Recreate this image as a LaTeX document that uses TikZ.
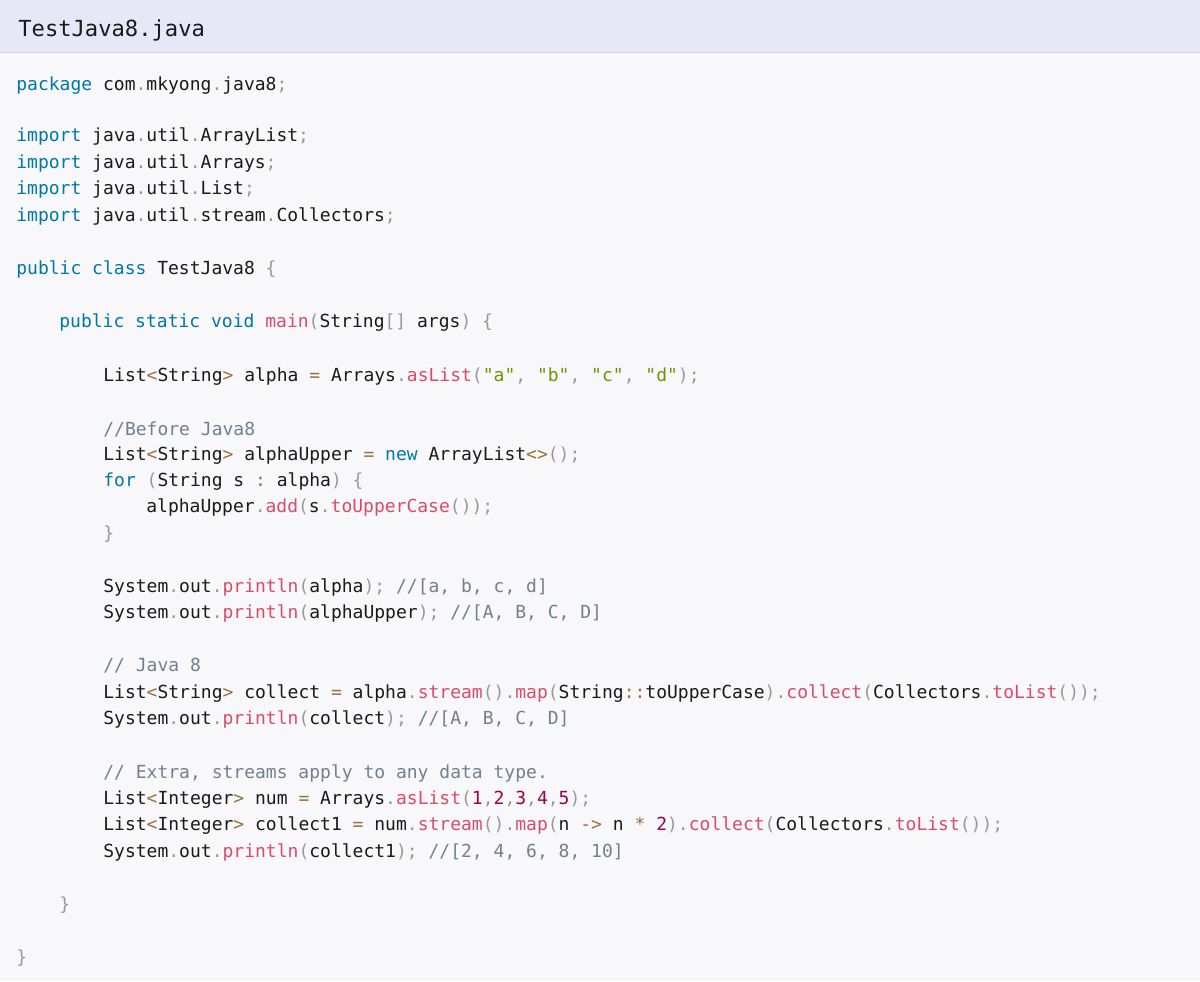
\documentclass[tikz,border=0pt]{standalone}
\usepackage{fontspec}
\setmonofont{DejaVu Sans Mono}
\definecolor{headbg}{HTML}{E7E7F8}
\definecolor{headline}{HTML}{CFCFE8}
\definecolor{codebg}{HTML}{F8F8FA}
\definecolor{kwcol}{HTML}{0077AA}
\definecolor{fncol}{HTML}{DD4A68}
\definecolor{stcol}{HTML}{669900}
\definecolor{opcol}{HTML}{9A6E3A}
\definecolor{pucol}{HTML}{999999}
\definecolor{cmcol}{HTML}{708090}
\definecolor{nmcol}{HTML}{990055}
\definecolor{txcol}{HTML}{1A1A1A}
\newcommand\kw[1]{\textcolor{kwcol}{#1}}
\newcommand\fn[1]{\textcolor{fncol}{#1}}
\newcommand\st[1]{\textcolor{stcol}{#1}}
\newcommand\op[1]{\textcolor{opcol}{#1}}
\newcommand\pu[1]{\textcolor{pucol}{#1}}
\newcommand\cm[1]{\textcolor{cmcol}{#1}}
\newcommand\nm[1]{\textcolor{nmcol}{#1}}
\newcommand\codefont{\ttfamily\fontsize{10.25}{12}\selectfont\color{txcol}}
\tikzset{codeline/.style={anchor=base west, inner sep=0pt, font=\codefont}}

\begin{document}
\begin{tikzpicture}[x=0.02cm,y=-0.02cm]
\useasboundingbox (0,0) rectangle (1200,981);
% background and file header
\fill[codebg] (0,0) rectangle (1200,981);
\fill[headbg] (0,0) rectangle (1200,52);
\draw[headline] (0,52) -- (1200,52);
\node[anchor=base west, inner sep=0pt, font=\ttfamily\fontsize{12.6}{14}\selectfont\color{txcol}] (title) at (18,36) {TestJava8.java};

% -------- code lines ---------
\begin{scope}[yshift=-0.11cm]
\node[codeline] (l1) at (16,85) {\kw{package} com\pu{.}mkyong\pu{.}java8\pu{;}};
\node[codeline] (l2) at (16,136) {\kw{import} java\pu{.}util\pu{.}ArrayList\pu{;}};
\node[codeline] (l3) at (16,163) {\kw{import} java\pu{.}util\pu{.}Arrays\pu{;}};
\node[codeline] (l4) at (16,189) {\kw{import} java\pu{.}util\pu{.}List\pu{;}};
\node[codeline] (l5) at (16,216) {\kw{import} java\pu{.}util\pu{.}stream\pu{.}Collectors\pu{;}};
\node[codeline] (l6) at (16,269) {\kw{public} \kw{class} TestJava8 \pu{\{}};
\node[codeline] (l7) at (59,322) {\kw{public} \kw{static} \kw{void} \fn{main}\pu{(}String\pu{[]} args\pu{)} \pu{\{}};
\node[codeline] (l8) at (103,376) {List\op{<}String\op{>} alpha \op{=} Arrays\pu{.}\fn{asList}\pu{(}\st{"a"}\pu{,} \st{"b"}\pu{,} \st{"c"}\pu{,} \st{"d"}\pu{);}};
\node[codeline] (l9) at (103,430) {\cm{//Before Java8}};
\node[codeline] (l10) at (103,455) {List\op{<}String\op{>} alphaUpper \op{=} \kw{new} ArrayList\op{<>}\pu{();}};
\node[codeline] (l11) at (103,481) {\kw{for} \pu{(}String s \op{:} alpha\pu{)} \pu{\{}};
\node[codeline] (l12) at (146,507) {alphaUpper\pu{.}\fn{add}\pu{(}s\pu{.}\fn{toUpperCase}\pu{());}};
\node[codeline] (l13) at (103,534) {\pu{\}}};
\node[codeline] (l14) at (103,587) {System\pu{.}out\pu{.}\fn{println}\pu{(}alpha\pu{);} \cm{//[a, b, c, d]}};
\node[codeline] (l15) at (103,613) {System\pu{.}out\pu{.}\fn{println}\pu{(}alphaUpper\pu{);} \cm{//[A, B, C, D]}};
\node[codeline] (l16) at (103,666) {\cm{// Java 8}};
\node[codeline] (l17) at (103,693) {List\op{<}String\op{>} collect \op{=} alpha\pu{.}\fn{stream}\pu{().}\fn{map}\pu{(}String\op{::}toUpperCase\pu{).}\fn{collect}\pu{(}Collectors\pu{.}\fn{toList}\pu{());}};
\node[codeline] (l18) at (103,719) {System\pu{.}out\pu{.}\fn{println}\pu{(}collect\pu{);} \cm{//[A, B, C, D]}};
\node[codeline] (l19) at (103,773) {\cm{// Extra, streams apply to any data type.}};
\node[codeline] (l20) at (103,799) {List\op{<}Integer\op{>} num \op{=} Arrays\pu{.}\fn{asList}\pu{(}\nm{1}\pu{,}\nm{2}\pu{,}\nm{3}\pu{,}\nm{4}\pu{,}\nm{5}\pu{);}};
\node[codeline] (l21) at (103,825) {List\op{<}Integer\op{>} collect1 \op{=} num\pu{.}\fn{stream}\pu{().}\fn{map}\pu{(}n \op{->} n \op{*} \nm{2}\pu{).}\fn{collect}\pu{(}Collectors\pu{.}\fn{toList}\pu{());}};
\node[codeline] (l22) at (103,852) {System\pu{.}out\pu{.}\fn{println}\pu{(}collect1\pu{);} \cm{//[2, 4, 6, 8, 10]}};
\node[codeline] (l23) at (59,905) {\pu{\}}};
\node[codeline] (l24) at (16,958) {\pu{\}}};
\end{scope}
\end{tikzpicture}
\end{document}
